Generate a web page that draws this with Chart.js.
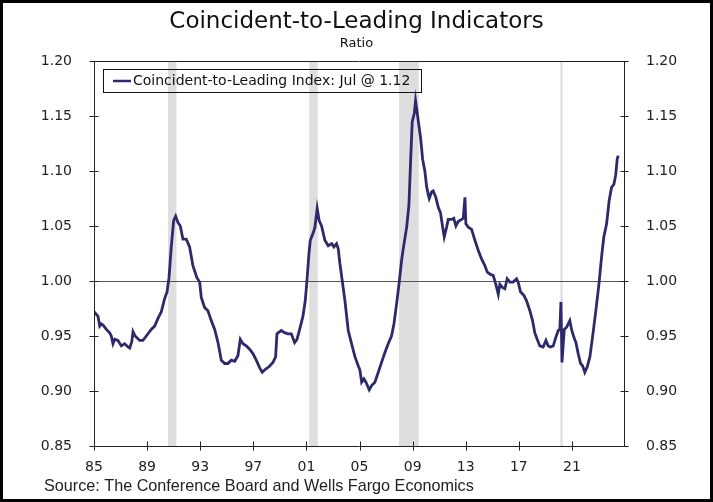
<!DOCTYPE html>
<html>
<head>
<meta charset="utf-8">
<script src="https://cdn.jsdelivr.net/npm/chart.js@4.4.1/dist/chart.umd.min.js"></script>
<style>
  html, body { margin: 0; padding: 0; background: #fff; }
  #wrap { width: 713px; height: 502px; }
</style>
</head>
<body>
<div id="wrap"><canvas id="chart" width="713" height="502"></canvas></div>
<script>
// decimal year of each reading, and the coincident-to-leading ratio
const years = [
  1985.00, 1985.15, 1985.30, 1985.43, 1985.55, 1985.68, 1985.93, 1986.18, 1986.30, 1986.43,
  1986.56, 1986.80, 1987.06, 1987.31, 1987.56, 1987.69, 1987.85, 1987.94, 1988.10, 1988.44,
  1988.69, 1988.94, 1989.31, 1989.57, 1989.82, 1990.07, 1990.32, 1990.50, 1990.65, 1990.82,
  1991.00, 1991.15, 1991.33, 1991.50, 1991.70, 1991.95, 1992.20, 1992.45, 1992.75, 1992.96,
  1993.08, 1993.33, 1993.58, 1993.83, 1994.09, 1994.34, 1994.59, 1994.84, 1995.09, 1995.34,
  1995.60, 1995.84, 1996.02, 1996.22, 1996.47, 1996.72, 1996.97, 1997.22, 1997.48, 1997.67,
  1997.93, 1998.18, 1998.48, 1998.68, 1998.78, 1999.10, 1999.35, 1999.61, 1999.86, 2000.11,
  2000.29, 2000.49, 2000.74, 2000.91, 2001.04, 2001.19, 2001.29, 2001.52, 2001.64, 2001.81,
  2001.96, 2002.14, 2002.39, 2002.64, 2002.90, 2003.07, 2003.27, 2003.40, 2003.52, 2003.70,
  2003.90, 2004.15, 2004.40, 2004.66, 2004.90, 2005.03, 2005.16, 2005.33, 2005.48, 2005.73,
  2005.91, 2006.16, 2006.41, 2006.66, 2006.91, 2007.16, 2007.41, 2007.59, 2007.79, 2007.97,
  2008.17, 2008.29, 2008.55, 2008.72, 2008.85, 2008.97, 2009.12, 2009.22, 2009.42, 2009.60,
  2009.75, 2009.92, 2010.05, 2010.17, 2010.25, 2010.43, 2010.55, 2010.75, 2010.93, 2011.10,
  2011.26, 2011.38, 2011.56, 2011.68, 2011.93, 2012.10, 2012.26, 2012.43, 2012.69, 2012.81,
  2012.94, 2013.01, 2013.19, 2013.44, 2013.69, 2013.94, 2014.19, 2014.44, 2014.62, 2014.87,
  2015.07, 2015.27, 2015.45, 2015.57, 2015.78, 2015.95, 2016.12, 2016.33, 2016.57, 2016.83,
  2016.95, 2017.13, 2017.38, 2017.58, 2017.83, 2018.03, 2018.20, 2018.38, 2018.58, 2018.83,
  2019.04, 2019.21, 2019.39, 2019.59, 2019.79, 2019.97, 2020.09, 2020.17, 2020.25, 2020.42,
  2020.60, 2020.84, 2020.97, 2021.14, 2021.30, 2021.47, 2021.65, 2021.80, 2021.97, 2022.15,
  2022.35, 2022.55, 2022.80, 2023.03, 2023.23, 2023.40, 2023.61, 2023.80, 2023.98, 2024.16,
  2024.29, 2024.41, 2024.49
];
const ratio = [
  0.972, 0.970, 0.968, 0.959, 0.961, 0.960, 0.956, 0.953, 0.950, 0.943,
  0.947, 0.946, 0.941, 0.943, 0.940, 0.939, 0.945, 0.954, 0.950, 0.946,
  0.946, 0.950, 0.956, 0.959, 0.966, 0.972, 0.984, 0.990, 1.003, 1.031,
  1.055, 1.059, 1.053, 1.050, 1.038, 1.038, 1.031, 1.014, 1.003, 0.999,
  0.985, 0.976, 0.973, 0.964, 0.956, 0.944, 0.928, 0.925, 0.925, 0.928,
  0.927, 0.932, 0.947, 0.943, 0.941, 0.938, 0.934, 0.928, 0.921, 0.917,
  0.920, 0.922, 0.926, 0.931, 0.952, 0.955, 0.953, 0.952, 0.952, 0.944,
  0.947, 0.956, 0.968, 0.982, 1.000, 1.025, 1.037, 1.044, 1.049, 1.066,
  1.055, 1.050, 1.037, 1.032, 1.034, 1.031, 1.034, 1.029, 1.016, 1.000,
  0.982, 0.955, 0.943, 0.931, 0.923, 0.919, 0.908, 0.911, 0.908, 0.901,
  0.905, 0.908, 0.917, 0.926, 0.935, 0.943, 0.950, 0.961, 0.979, 0.997,
  1.019, 1.029, 1.049, 1.069, 1.110, 1.145, 1.152, 1.164, 1.146, 1.130,
  1.111, 1.100, 1.086, 1.079, 1.075, 1.081, 1.082, 1.076, 1.067, 1.062,
  1.049, 1.040, 1.049, 1.056, 1.056, 1.057, 1.050, 1.054, 1.056, 1.057,
  1.076, 1.052, 1.049, 1.047, 1.037, 1.028, 1.020, 1.014, 1.008, 1.006,
  1.005, 0.997, 0.988, 0.997, 0.994, 0.993, 1.002, 0.999, 0.999, 1.002,
  0.999, 0.990, 0.987, 0.982, 0.973, 0.964, 0.953, 0.947, 0.941, 0.940,
  0.946, 0.941, 0.940, 0.941, 0.949, 0.955, 0.956, 0.981, 0.926, 0.956,
  0.958, 0.964, 0.956, 0.949, 0.944, 0.934, 0.925, 0.923, 0.917, 0.922,
  0.931, 0.949, 0.973, 0.997, 1.022, 1.040, 1.052, 1.073, 1.085, 1.088,
  1.096, 1.111, 1.114
];

// recessions (shaded)
const recStart = [1990.58, 2001.21, 2007.97, 2020.13];
const recEnd = [1991.21, 2001.85, 2009.46, 2020.30];

const xTicks = [1985, 1989, 1993, 1997, 2001, 2005, 2009, 2013, 2017, 2021];
const yTicks = [0.85, 0.90, 0.95, 1.00, 1.05, 1.10, 1.15, 1.20];

const seriesLabel = 'Coincident-to-Leading Index: Jul @ 1.12';
const lineColor = '#2d2a6c';
const tickFont = { family: 'DejaVu Sans', size: 14 };

const points = years.map((yr, i) => ({ x: yr, y: ratio[i] }));

const backdrop = {
  id: 'backdrop',
  beforeDatasetsDraw(chart) {
    const { ctx, chartArea: a, scales } = chart;
    ctx.save();
    ctx.fillStyle = '#dedede';
    recStart.forEach((s, i) => {
      const x0 = scales.x.getPixelForValue(s);
      const x1 = scales.x.getPixelForValue(recEnd[i]);
      ctx.fillRect(x0, a.top, Math.max(x1 - x0, 2), a.bottom - a.top);
    });
    const y1 = Math.round(scales.y.getPixelForValue(1.0)) + 0.5;
    ctx.strokeStyle = '#555';
    ctx.lineWidth = 1;
    ctx.beginPath();
    ctx.moveTo(a.left, y1);
    ctx.lineTo(a.right, y1);
    ctx.stroke();
    ctx.restore();
  }
};

const frame = {
  id: 'frame',
  afterDraw(chart) {
    const { ctx, chartArea: a, scales, width, height } = chart;
    ctx.save();
    ctx.strokeStyle = '#222';
    ctx.lineWidth = 1;
    const L = Math.round(a.left) + 0.5, R = Math.round(a.right) + 0.5;
    const T = Math.round(a.top) + 0.5, B = Math.round(a.bottom) + 0.5;
    ctx.beginPath();
    ctx.moveTo(L, T); ctx.lineTo(R, T);
    ctx.moveTo(L, T); ctx.lineTo(L, B);
    ctx.moveTo(R, T); ctx.lineTo(R, B);
    ctx.moveTo(L, B); ctx.lineTo(R, B);
    yTicks.forEach(v => {
      const y = Math.round(scales.y.getPixelForValue(v)) + 0.5;
      ctx.moveTo(L - 5, y); ctx.lineTo(L + 4, y);
      ctx.moveTo(R - 4, y); ctx.lineTo(R + 4, y);
    });
    xTicks.forEach(v => {
      const x = Math.round(scales.x.getPixelForValue(v)) + 0.5;
      ctx.moveTo(x, B - 5); ctx.lineTo(x, B + 4);
    });
    ctx.stroke();

    // titles
    ctx.fillStyle = '#111';
    ctx.textAlign = 'center';
    ctx.textBaseline = 'middle';
    ctx.font = '23px "DejaVu Sans"';
    ctx.fillText('Coincident-to-Leading Indicators', width / 2, 22);
    ctx.font = '13px "DejaVu Sans"';
    ctx.fillText('Ratio', width / 2, 44);

    // legend box
    ctx.strokeStyle = '#111';
    ctx.strokeRect(103.5, 69.5, 318, 23);
    ctx.strokeStyle = lineColor;
    ctx.lineWidth = 2.5;
    ctx.beginPath();
    ctx.moveTo(113, 81); ctx.lineTo(131, 81);
    ctx.stroke();
    ctx.textAlign = 'left';
    ctx.font = '14px "DejaVu Sans"';
    ctx.fillText(chart.data.datasets[0].label, 133, 81.5);

    // source
    ctx.fillStyle = '#222';
    ctx.font = '16.2px "Liberation Sans"';
    ctx.fillText('Source: The Conference Board and Wells Fargo Economics', 44, 487);

    // outer border
    ctx.strokeStyle = '#000';
    ctx.lineWidth = 3;
    ctx.strokeRect(1.5, 1.5, width - 3, height - 3);
    ctx.restore();
  }
};

const yAxis = (pos, w) => ({
  type: 'linear',
  position: pos,
  min: 0.85,
  max: 1.2,
  grid: { display: false },
  border: { display: false },
  afterBuildTicks: s => { s.ticks = yTicks.map(v => ({ value: v })); },
  afterFit: s => { s.width = w; },
  ticks: {
    font: tickFont,
    color: '#222',
    padding: 14,
    callback: v => v.toFixed(2)
  }
});

new Chart(document.getElementById('chart'), {
  type: 'line',
  data: {
    datasets: [{
      label: seriesLabel,
      data: points,
      borderColor: lineColor,
      borderWidth: 2.8,
      pointRadius: 0,
      tension: 0,
      fill: false
    }]
  },
  options: {
    responsive: false,
    animation: false,
    devicePixelRatio: 1,
    layout: { padding: { top: 61, left: 0, right: 0, bottom: 0 } },
    plugins: {
      legend: { display: false },
      title: { display: false },
      tooltip: { enabled: false }
    },
    scales: {
      x: {
        type: 'linear',
        min: 1985,
        max: 2024.92,
        grid: { display: false },
        border: { display: false },
        afterBuildTicks: s => { s.ticks = xTicks.map(v => ({ value: v })); },
        afterFit: s => { s.height = 56; },
        ticks: {
          font: tickFont,
          color: '#222',
          padding: 5,
          autoSkip: false,
          maxRotation: 0,
          callback: v => String(v % 100).padStart(2, '0')
        }
      },
      y: yAxis('left', 94),
      y2: yAxis('right', 89)
    }
  },
  plugins: [backdrop, frame]
});
</script>
</body>
</html>
